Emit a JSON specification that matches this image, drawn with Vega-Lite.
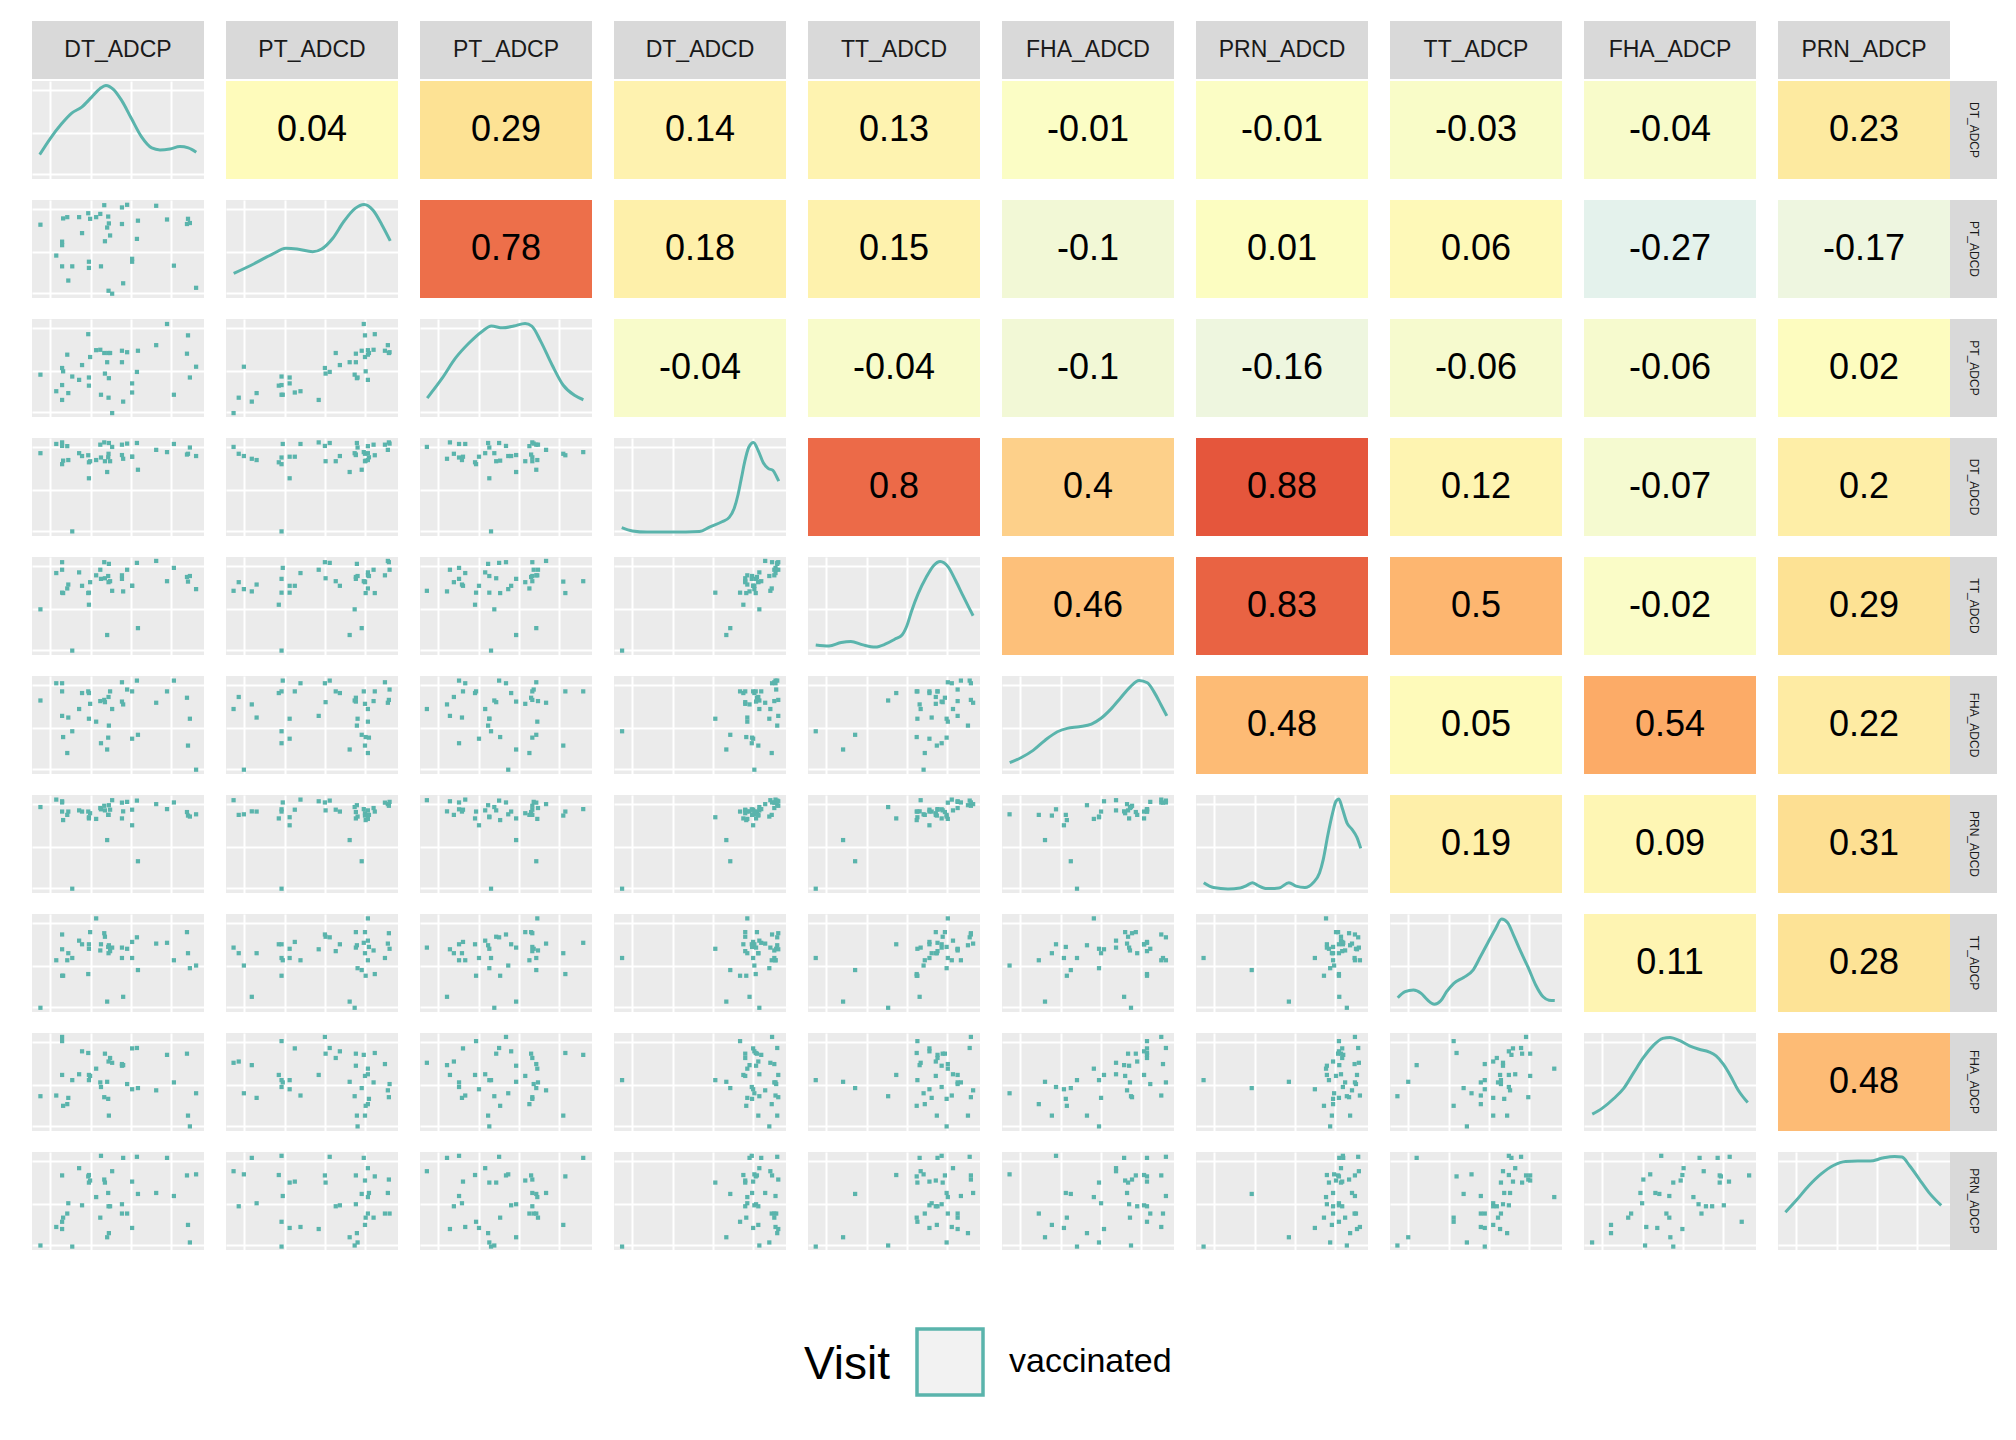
{
"$schema": "https://vega.github.io/schema/vega-lite/v6.json",
"background": "white",
"padding": {"left": 32, "top": 21, "right": 10, "bottom": 10},
"config": {"view": {"stroke": null}, "font": "Liberation Sans"},
"datasets": {
"vars": [{"var":"DT_ADCP"},{"var":"PT_ADCD"},{"var":"PT_ADCP"},{"var":"DT_ADCD"},{"var":"TT_ADCD"},{"var":"FHA_ADCD"},{"var":"PRN_ADCD"},{"var":"TT_ADCP"},{"var":"FHA_ADCP"},{"var":"PRN_ADCP"}],
"main": [
{"k":"pt","DT_ADCP":0.401,"PT_ADCD":0.323,"PT_ADCP":0.227,"DT_ADCD":0.801,"TT_ADCD":0.777,"FHA_ADCD":0.314,"PRN_ADCD":0.854,"TT_ADCP":0.691,"FHA_ADCP":0.449,"PRN_ADCP":0.961},
{"k":"pt","DT_ADCP":0.610,"PT_ADCD":0.603,"PT_ADCP":0.460,"DT_ADCD":0.949,"TT_ADCD":0.940,"FHA_ADCD":0.953,"PRN_ADCD":0.943,"TT_ADCP":0.762,"FHA_ADCP":0.847,"PRN_ADCP":0.951},
{"k":"pt","DT_ADCP":0.530,"PT_ADCD":0.150,"PT_ADCP":0.157,"DT_ADCD":0.788,"TT_ADCD":0.649,"FHA_ADCD":0.710,"PRN_ADCD":0.833,"TT_ADCP":0.155,"FHA_ADCP":0.672,"PRN_ADCP":0.940},
{"k":"pt","DT_ADCP":0.785,"PT_ADCD":0.801,"PT_ADCP":0.949,"DT_ADCD":0.856,"TT_ADCD":0.753,"FHA_ADCD":0.843,"PRN_ADCD":0.856,"TT_ADCP":0.706,"FHA_ADCP":0.777,"PRN_ADCP":0.940},
{"k":"pt","DT_ADCP":0.274,"PT_ADCD":0.825,"PT_ADCP":0.379,"DT_ADCD":0.845,"TT_ADCD":0.843,"FHA_ADCD":0.663,"PRN_ADCD":0.843,"TT_ADCP":0.728,"FHA_ADCP":0.579,"PRN_ADCP":0.835},
{"k":"pt","DT_ADCP":0.466,"PT_ADCD":0.044,"PT_ADCP":0.040,"DT_ADCD":0.909,"TT_ADCD":0.655,"FHA_ADCD":0.663,"PRN_ADCD":0.947,"TT_ADCP":0.657,"FHA_ADCP":0.696,"PRN_ADCP":0.804},
{"k":"pt","DT_ADCP":0.954,"PT_ADCD":0.104,"PT_ADCP":0.513,"DT_ADCD":0.816,"TT_ADCD":0.672,"FHA_ADCD":0.044,"PRN_ADCD":0.803,"TT_ADCP":0.474,"FHA_ADCP":0.385,"PRN_ADCP":0.772},
{"k":"pt","DT_ADCP":0.331,"PT_ADCD":0.307,"PT_ADCP":0.320,"DT_ADCD":0.752,"TT_ADCD":0.513,"FHA_ADCD":0.826,"PRN_ADCD":0.761,"TT_ADCP":0.691,"FHA_ADCP":0.572,"PRN_ADCP":0.765},
{"k":"pt","DT_ADCP":0.175,"PT_ADCD":0.575,"PT_ADCP":0.500,"DT_ADCD":0.919,"TT_ADCD":0.947,"FHA_ADCD":0.926,"PRN_ADCD":0.924,"TT_ADCP":0.791,"FHA_ADCP":0.960,"PRN_ADCP":0.761},
{"k":"pt","DT_ADCP":0.901,"PT_ADCD":0.755,"PT_ADCP":0.646,"DT_ADCD":0.831,"TT_ADCD":0.796,"FHA_ADCD":0.778,"PRN_ADCD":0.826,"TT_ADCP":0.815,"FHA_ADCP":0.789,"PRN_ADCP":0.761},
{"k":"pt","DT_ADCP":0.327,"PT_ADCD":0.865,"PT_ADCP":0.845,"DT_ADCD":0.824,"TT_ADCD":0.632,"FHA_ADCD":0.843,"PRN_ADCD":0.831,"TT_ADCP":0.387,"FHA_ADCP":0.796,"PRN_ADCP":0.751},
{"k":"pt","DT_ADCP":0.420,"PT_ADCD":0.947,"PT_ADCP":0.653,"DT_ADCD":0.955,"TT_ADCD":0.947,"FHA_ADCD":0.756,"PRN_ADCD":0.890,"TT_ADCP":0.804,"FHA_ADCP":0.345,"PRN_ADCP":0.719},
{"k":"pt","DT_ADCP":0.338,"PT_ADCD":0.808,"PT_ADCP":0.612,"DT_ADCD":0.763,"TT_ADCD":0.743,"FHA_ADCD":0.716,"PRN_ADCD":0.814,"TT_ADCP":0.815,"FHA_ADCP":0.562,"PRN_ADCP":0.709},
{"k":"pt","DT_ADCP":0.582,"PT_ADCD":0.400,"PT_ADCP":0.250,"DT_ADCD":0.809,"TT_ADCD":0.706,"FHA_ADCD":0.843,"PRN_ADCD":0.850,"TT_ADCP":0.715,"FHA_ADCP":0.843,"PRN_ADCP":0.698},
{"k":"pt","DT_ADCP":0.331,"PT_ADCD":0.370,"PT_ADCP":0.403,"DT_ADCD":0.589,"TT_ADCD":0.636,"FHA_ADCD":0.564,"PRN_ADCD":0.773,"TT_ADCP":0.645,"FHA_ADCP":0.519,"PRN_ADCP":0.688},
{"k":"pt","DT_ADCP":0.424,"PT_ADCD":0.579,"PT_ADCP":0.443,"DT_ADCD":0.763,"TT_ADCD":0.783,"FHA_ADCD":0.733,"PRN_ADCD":0.843,"TT_ADCP":0.768,"FHA_ADCP":0.789,"PRN_ADCP":0.688},
{"k":"pt","DT_ADCP":0.443,"PT_ADCD":0.831,"PT_ADCP":0.653,"DT_ADCD":0.803,"TT_ADCD":0.806,"FHA_ADCD":0.371,"PRN_ADCD":0.797,"TT_ADCP":0.664,"FHA_ADCP":0.328,"PRN_ADCP":0.582},
{"k":"pt","DT_ADCP":0.722,"PT_ADCD":0.941,"PT_ADCP":0.733,"DT_ADCD":0.879,"TT_ADCD":0.960,"FHA_ADCD":0.727,"PRN_ADCD":0.907,"TT_ADCP":0.698,"FHA_ADCP":0.415,"PRN_ADCP":0.582},
{"k":"pt","DT_ADCP":0.616,"PT_ADCD":0.789,"PT_ADCP":0.676,"DT_ADCD":0.676,"TT_ADCD":0.274,"FHA_ADCD":0.400,"PRN_ADCD":0.324,"TT_ADCP":0.428,"FHA_ADCP":0.438,"PRN_ADCP":0.572},
{"k":"pt","DT_ADCP":0.825,"PT_ADCD":0.330,"PT_ADCP":0.227,"DT_ADCD":0.939,"TT_ADCD":0.889,"FHA_ADCD":0.953,"PRN_ADCD":0.924,"TT_ADCP":0.528,"FHA_ADCP":0.496,"PRN_ADCP":0.551},
{"k":"pt","DT_ADCP":0.373,"PT_ADCD":0.825,"PT_ADCP":0.682,"DT_ADCD":0.775,"TT_ADCD":0.813,"FHA_ADCD":0.534,"PRN_ADCD":0.756,"TT_ADCP":0.955,"FHA_ADCP":0.636,"PRN_ADCP":0.540},
{"k":"pt","DT_ADCP":0.211,"PT_ADCD":0.178,"PT_ADCP":0.244,"DT_ADCD":0.775,"TT_ADCD":0.719,"FHA_ADCD":0.576,"PRN_ADCD":0.831,"TT_ADCP":0.600,"FHA_ADCP":0.338,"PRN_ADCP":0.477},
{"k":"pt","DT_ADCP":0.523,"PT_ADCD":0.755,"PT_ADCP":0.559,"DT_ADCD":0.826,"TT_ADCD":0.777,"FHA_ADCD":0.739,"PRN_ADCD":0.761,"TT_ADCP":0.657,"FHA_ADCP":0.666,"PRN_ADCP":0.467},
{"k":"pt","DT_ADCP":0.291,"PT_ADCD":0.662,"PT_ADCP":0.530,"DT_ADCD":0.816,"TT_ADCD":0.706,"FHA_ADCD":0.826,"PRN_ADCD":0.831,"TT_ADCP":0.691,"FHA_ADCP":0.813,"PRN_ADCP":0.456},
{"k":"pt","DT_ADCP":0.445,"PT_ADCD":0.074,"PT_ADCP":0.197,"DT_ADCD":0.839,"TT_ADCD":0.743,"FHA_ADCD":0.786,"PRN_ADCD":0.797,"TT_ADCP":0.600,"FHA_ADCP":0.709,"PRN_ADCP":0.446},
{"k":"pt","DT_ADCP":0.454,"PT_ADCD":0.638,"PT_ADCP":0.653,"DT_ADCD":0.763,"TT_ADCD":0.753,"FHA_ADCD":0.843,"PRN_ADCD":0.850,"TT_ADCP":0.621,"FHA_ADCP":0.745,"PRN_ADCP":0.446},
{"k":"pt","DT_ADCP":0.205,"PT_ADCD":0.825,"PT_ADCP":0.636,"DT_ADCD":0.917,"TT_ADCD":0.679,"FHA_ADCD":0.214,"PRN_ADCD":0.797,"TT_ADCP":0.528,"FHA_ADCP":0.274,"PRN_ADCP":0.372},
{"k":"pt","DT_ADCP":0.523,"PT_ADCD":0.924,"PT_ADCP":0.676,"DT_ADCD":0.932,"TT_ADCD":0.813,"FHA_ADCD":0.936,"PRN_ADCD":0.922,"TT_ADCP":0.551,"FHA_ADCP":0.683,"PRN_ADCP":0.372},
{"k":"pt","DT_ADCP":0.553,"PT_ADCD":0.951,"PT_ADCP":0.661,"DT_ADCD":0.943,"TT_ADCD":0.870,"FHA_ADCD":0.862,"PRN_ADCD":0.930,"TT_ADCP":0.645,"FHA_ADCP":0.479,"PRN_ADCP":0.372},
{"k":"pt","DT_ADCP":0.181,"PT_ADCD":0.812,"PT_ADCP":0.466,"DT_ADCD":0.769,"TT_ADCD":0.632,"FHA_ADCD":0.377,"PRN_ADCD":0.744,"TT_ADCP":0.370,"FHA_ADCP":0.257,"PRN_ADCP":0.330},
{"k":"pt","DT_ADCP":0.397,"PT_ADCD":0.858,"PT_ADCP":0.686,"DT_ADCD":0.932,"TT_ADCD":0.870,"FHA_ADCD":0.744,"PRN_ADCD":0.867,"TT_ADCP":0.628,"FHA_ADCP":0.496,"PRN_ADCP":0.330},
{"k":"pt","DT_ADCP":0.175,"PT_ADCD":0.323,"PT_ADCP":0.326,"DT_ADCD":0.733,"TT_ADCD":0.636,"FHA_ADCD":0.843,"PRN_ADCD":0.831,"TT_ADCP":0.370,"FHA_ADCP":0.917,"PRN_ADCP":0.288},
{"k":"pt","DT_ADCP":0.907,"PT_ADCD":0.808,"PT_ADCP":0.833,"DT_ADCD":0.839,"TT_ADCD":0.749,"FHA_ADCD":0.290,"PRN_ADCD":0.790,"TT_ADCP":0.600,"FHA_ADCP":0.157,"PRN_ADCP":0.256},
{"k":"pt","DT_ADCP":0.141,"PT_ADCD":0.433,"PT_ADCP":0.263,"DT_ADCD":0.939,"TT_ADCD":0.836,"FHA_ADCD":0.926,"PRN_ADCD":0.953,"TT_ADCP":0.528,"FHA_ADCP":0.362,"PRN_ADCP":0.235},
{"k":"pt","DT_ADCP":0.582,"PT_ADCD":0.370,"PT_ADCP":0.343,"DT_ADCD":0.809,"TT_ADCD":0.706,"FHA_ADCD":0.360,"PRN_ADCD":0.691,"TT_ADCP":0.551,"FHA_ADCP":0.426,"PRN_ADCP":0.225},
{"k":"pt","DT_ADCP":0.175,"PT_ADCD":0.539,"PT_ADCP":0.174,"DT_ADCD":0.955,"TT_ADCD":0.870,"FHA_ADCD":0.593,"PRN_ADCD":0.936,"TT_ADCP":0.640,"FHA_ADCP":0.572,"PRN_ADCP":0.214},
{"k":"pt","DT_ADCP":0.447,"PT_ADCD":0.761,"PT_ADCP":0.396,"DT_ADCD":0.949,"TT_ADCD":0.930,"FHA_ADCD":0.494,"PRN_ADCD":0.896,"TT_ADCP":0.681,"FHA_ADCP":0.157,"PRN_ADCP":0.172},
{"k":"pt","DT_ADCP":0.437,"PT_ADCD":0.719,"PT_ADCP":0.559,"DT_ADCD":0.653,"TT_ADCD":0.204,"FHA_ADCD":0.250,"PRN_ADCD":0.540,"TT_ADCP":0.106,"FHA_ADCP":0.502,"PRN_ADCP":0.130},
{"k":"pt","DT_ADCP":0.918,"PT_ADCD":0.765,"PT_ADCP":0.403,"DT_ADCD":0.903,"TT_ADCD":0.806,"FHA_ADCD":0.564,"PRN_ADCD":0.780,"TT_ADCP":0.447,"FHA_ADCP":0.047,"PRN_ADCP":0.077},
{"k":"pt","DT_ADCP":0.049,"PT_ADCD":0.748,"PT_ADCP":0.432,"DT_ADCD":0.845,"TT_ADCD":0.466,"FHA_ADCD":0.750,"PRN_ADCD":0.877,"TT_ADCP":0.043,"FHA_ADCP":0.355,"PRN_ADCP":0.046},
{"k":"pt","DT_ADCP":0.234,"PT_ADCD":0.323,"PT_ADCP":0.413,"DT_ADCD":0.047,"TT_ADCD":0.045,"FHA_ADCD":0.436,"PRN_ADCD":0.044,"TT_ADCP":0.551,"FHA_ADCP":0.519,"PRN_ADCP":0.035},
{"k":"cor","r0":"DT_ADCP","c0":"PT_ADCD","r":0.04},
{"k":"cor","r0":"DT_ADCP","c0":"PT_ADCP","r":0.29},
{"k":"cor","r0":"DT_ADCP","c0":"DT_ADCD","r":0.14},
{"k":"cor","r0":"DT_ADCP","c0":"TT_ADCD","r":0.13},
{"k":"cor","r0":"DT_ADCP","c0":"FHA_ADCD","r":-0.01},
{"k":"cor","r0":"DT_ADCP","c0":"PRN_ADCD","r":-0.01},
{"k":"cor","r0":"DT_ADCP","c0":"TT_ADCP","r":-0.03},
{"k":"cor","r0":"DT_ADCP","c0":"FHA_ADCP","r":-0.04},
{"k":"cor","r0":"DT_ADCP","c0":"PRN_ADCP","r":0.23},
{"k":"cor","r0":"PT_ADCD","c0":"PT_ADCP","r":0.78},
{"k":"cor","r0":"PT_ADCD","c0":"DT_ADCD","r":0.18},
{"k":"cor","r0":"PT_ADCD","c0":"TT_ADCD","r":0.15},
{"k":"cor","r0":"PT_ADCD","c0":"FHA_ADCD","r":-0.1},
{"k":"cor","r0":"PT_ADCD","c0":"PRN_ADCD","r":0.01},
{"k":"cor","r0":"PT_ADCD","c0":"TT_ADCP","r":0.06},
{"k":"cor","r0":"PT_ADCD","c0":"FHA_ADCP","r":-0.27},
{"k":"cor","r0":"PT_ADCD","c0":"PRN_ADCP","r":-0.17},
{"k":"cor","r0":"PT_ADCP","c0":"DT_ADCD","r":-0.04},
{"k":"cor","r0":"PT_ADCP","c0":"TT_ADCD","r":-0.04},
{"k":"cor","r0":"PT_ADCP","c0":"FHA_ADCD","r":-0.1},
{"k":"cor","r0":"PT_ADCP","c0":"PRN_ADCD","r":-0.16},
{"k":"cor","r0":"PT_ADCP","c0":"TT_ADCP","r":-0.06},
{"k":"cor","r0":"PT_ADCP","c0":"FHA_ADCP","r":-0.06},
{"k":"cor","r0":"PT_ADCP","c0":"PRN_ADCP","r":0.02},
{"k":"cor","r0":"DT_ADCD","c0":"TT_ADCD","r":0.8},
{"k":"cor","r0":"DT_ADCD","c0":"FHA_ADCD","r":0.4},
{"k":"cor","r0":"DT_ADCD","c0":"PRN_ADCD","r":0.88},
{"k":"cor","r0":"DT_ADCD","c0":"TT_ADCP","r":0.12},
{"k":"cor","r0":"DT_ADCD","c0":"FHA_ADCP","r":-0.07},
{"k":"cor","r0":"DT_ADCD","c0":"PRN_ADCP","r":0.2},
{"k":"cor","r0":"TT_ADCD","c0":"FHA_ADCD","r":0.46},
{"k":"cor","r0":"TT_ADCD","c0":"PRN_ADCD","r":0.83},
{"k":"cor","r0":"TT_ADCD","c0":"TT_ADCP","r":0.5},
{"k":"cor","r0":"TT_ADCD","c0":"FHA_ADCP","r":-0.02},
{"k":"cor","r0":"TT_ADCD","c0":"PRN_ADCP","r":0.29},
{"k":"cor","r0":"FHA_ADCD","c0":"PRN_ADCD","r":0.48},
{"k":"cor","r0":"FHA_ADCD","c0":"TT_ADCP","r":0.05},
{"k":"cor","r0":"FHA_ADCD","c0":"FHA_ADCP","r":0.54},
{"k":"cor","r0":"FHA_ADCD","c0":"PRN_ADCP","r":0.22},
{"k":"cor","r0":"PRN_ADCD","c0":"TT_ADCP","r":0.19},
{"k":"cor","r0":"PRN_ADCD","c0":"FHA_ADCP","r":0.09},
{"k":"cor","r0":"PRN_ADCD","c0":"PRN_ADCP","r":0.31},
{"k":"cor","r0":"TT_ADCP","c0":"FHA_ADCP","r":0.11},
{"k":"cor","r0":"TT_ADCP","c0":"PRN_ADCP","r":0.28},
{"k":"cor","r0":"FHA_ADCP","c0":"PRN_ADCP","r":0.48},
{"k":"den","r0":"DT_ADCP","c0":"DT_ADCP","u":0.045,"v":0.249},
{"k":"den","r0":"DT_ADCP","c0":"DT_ADCP","u":0.105,"v":0.410},
{"k":"den","r0":"DT_ADCP","c0":"DT_ADCP","u":0.172,"v":0.563},
{"k":"den","r0":"DT_ADCP","c0":"DT_ADCP","u":0.231,"v":0.672},
{"k":"den","r0":"DT_ADCP","c0":"DT_ADCP","u":0.289,"v":0.734},
{"k":"den","r0":"DT_ADCP","c0":"DT_ADCP","u":0.347,"v":0.836},
{"k":"den","r0":"DT_ADCP","c0":"DT_ADCP","u":0.395,"v":0.922},
{"k":"den","r0":"DT_ADCP","c0":"DT_ADCP","u":0.430,"v":0.955},
{"k":"den","r0":"DT_ADCP","c0":"DT_ADCP","u":0.473,"v":0.915},
{"k":"den","r0":"DT_ADCP","c0":"DT_ADCP","u":0.521,"v":0.802},
{"k":"den","r0":"DT_ADCP","c0":"DT_ADCP","u":0.579,"v":0.614},
{"k":"den","r0":"DT_ADCP","c0":"DT_ADCP","u":0.638,"v":0.427},
{"k":"den","r0":"DT_ADCP","c0":"DT_ADCP","u":0.696,"v":0.317},
{"k":"den","r0":"DT_ADCP","c0":"DT_ADCP","u":0.744,"v":0.297},
{"k":"den","r0":"DT_ADCP","c0":"DT_ADCP","u":0.802,"v":0.307},
{"k":"den","r0":"DT_ADCP","c0":"DT_ADCP","u":0.860,"v":0.331},
{"k":"den","r0":"DT_ADCP","c0":"DT_ADCP","u":0.909,"v":0.317},
{"k":"den","r0":"DT_ADCP","c0":"DT_ADCP","u":0.955,"v":0.273},
{"k":"den","r0":"PT_ADCD","c0":"PT_ADCD","u":0.045,"v":0.250},
{"k":"den","r0":"PT_ADCD","c0":"PT_ADCD","u":0.166,"v":0.352},
{"k":"den","r0":"PT_ADCD","c0":"PT_ADCD","u":0.270,"v":0.448},
{"k":"den","r0":"PT_ADCD","c0":"PT_ADCD","u":0.348,"v":0.507},
{"k":"den","r0":"PT_ADCD","c0":"PT_ADCD","u":0.413,"v":0.500},
{"k":"den","r0":"PT_ADCD","c0":"PT_ADCD","u":0.504,"v":0.472},
{"k":"den","r0":"PT_ADCD","c0":"PT_ADCD","u":0.556,"v":0.500},
{"k":"den","r0":"PT_ADCD","c0":"PT_ADCD","u":0.621,"v":0.610},
{"k":"den","r0":"PT_ADCD","c0":"PT_ADCD","u":0.686,"v":0.783},
{"k":"den","r0":"PT_ADCD","c0":"PT_ADCD","u":0.751,"v":0.915},
{"k":"den","r0":"PT_ADCD","c0":"PT_ADCD","u":0.803,"v":0.955},
{"k":"den","r0":"PT_ADCD","c0":"PT_ADCD","u":0.855,"v":0.895},
{"k":"den","r0":"PT_ADCD","c0":"PT_ADCD","u":0.906,"v":0.748},
{"k":"den","r0":"PT_ADCD","c0":"PT_ADCD","u":0.955,"v":0.583},
{"k":"den","r0":"PT_ADCP","c0":"PT_ADCP","u":0.042,"v":0.193},
{"k":"den","r0":"PT_ADCP","c0":"PT_ADCP","u":0.128,"v":0.393},
{"k":"den","r0":"PT_ADCP","c0":"PT_ADCP","u":0.206,"v":0.600},
{"k":"den","r0":"PT_ADCP","c0":"PT_ADCP","u":0.285,"v":0.755},
{"k":"den","r0":"PT_ADCP","c0":"PT_ADCP","u":0.363,"v":0.876},
{"k":"den","r0":"PT_ADCP","c0":"PT_ADCP","u":0.415,"v":0.928},
{"k":"den","r0":"PT_ADCP","c0":"PT_ADCP","u":0.480,"v":0.910},
{"k":"den","r0":"PT_ADCP","c0":"PT_ADCP","u":0.546,"v":0.928},
{"k":"den","r0":"PT_ADCP","c0":"PT_ADCP","u":0.611,"v":0.955},
{"k":"den","r0":"PT_ADCP","c0":"PT_ADCP","u":0.650,"v":0.928},
{"k":"den","r0":"PT_ADCP","c0":"PT_ADCP","u":0.702,"v":0.772},
{"k":"den","r0":"PT_ADCP","c0":"PT_ADCP","u":0.768,"v":0.531},
{"k":"den","r0":"PT_ADCP","c0":"PT_ADCP","u":0.833,"v":0.324},
{"k":"den","r0":"PT_ADCP","c0":"PT_ADCP","u":0.898,"v":0.221},
{"k":"den","r0":"PT_ADCP","c0":"PT_ADCP","u":0.950,"v":0.176},
{"k":"den","r0":"DT_ADCD","c0":"DT_ADCD","u":0.045,"v":0.086},
{"k":"den","r0":"DT_ADCD","c0":"DT_ADCD","u":0.107,"v":0.052},
{"k":"den","r0":"DT_ADCD","c0":"DT_ADCD","u":0.192,"v":0.040},
{"k":"den","r0":"DT_ADCD","c0":"DT_ADCD","u":0.304,"v":0.040},
{"k":"den","r0":"DT_ADCD","c0":"DT_ADCD","u":0.417,"v":0.040},
{"k":"den","r0":"DT_ADCD","c0":"DT_ADCD","u":0.496,"v":0.045},
{"k":"den","r0":"DT_ADCD","c0":"DT_ADCD","u":0.558,"v":0.093},
{"k":"den","r0":"DT_ADCD","c0":"DT_ADCD","u":0.628,"v":0.145},
{"k":"den","r0":"DT_ADCD","c0":"DT_ADCD","u":0.670,"v":0.190},
{"k":"den","r0":"DT_ADCD","c0":"DT_ADCD","u":0.699,"v":0.283},
{"k":"den","r0":"DT_ADCD","c0":"DT_ADCD","u":0.721,"v":0.421},
{"k":"den","r0":"DT_ADCD","c0":"DT_ADCD","u":0.741,"v":0.593},
{"k":"den","r0":"DT_ADCD","c0":"DT_ADCD","u":0.761,"v":0.766},
{"k":"den","r0":"DT_ADCD","c0":"DT_ADCD","u":0.783,"v":0.903},
{"k":"den","r0":"DT_ADCD","c0":"DT_ADCD","u":0.811,"v":0.955},
{"k":"den","r0":"DT_ADCD","c0":"DT_ADCD","u":0.839,"v":0.869},
{"k":"den","r0":"DT_ADCD","c0":"DT_ADCD","u":0.868,"v":0.748},
{"k":"den","r0":"DT_ADCD","c0":"DT_ADCD","u":0.896,"v":0.690},
{"k":"den","r0":"DT_ADCD","c0":"DT_ADCD","u":0.924,"v":0.669},
{"k":"den","r0":"DT_ADCD","c0":"DT_ADCD","u":0.944,"v":0.610},
{"k":"den","r0":"DT_ADCD","c0":"DT_ADCD","u":0.958,"v":0.559},
{"k":"den","r0":"TT_ADCD","c0":"TT_ADCD","u":0.045,"v":0.103},
{"k":"den","r0":"TT_ADCD","c0":"TT_ADCD","u":0.122,"v":0.092},
{"k":"den","r0":"TT_ADCD","c0":"TT_ADCD","u":0.193,"v":0.127},
{"k":"den","r0":"TT_ADCD","c0":"TT_ADCD","u":0.249,"v":0.137},
{"k":"den","r0":"TT_ADCD","c0":"TT_ADCD","u":0.320,"v":0.103},
{"k":"den","r0":"TT_ADCD","c0":"TT_ADCD","u":0.391,"v":0.082},
{"k":"den","r0":"TT_ADCD","c0":"TT_ADCD","u":0.448,"v":0.110},
{"k":"den","r0":"TT_ADCD","c0":"TT_ADCD","u":0.504,"v":0.161},
{"k":"den","r0":"TT_ADCD","c0":"TT_ADCD","u":0.547,"v":0.205},
{"k":"den","r0":"TT_ADCD","c0":"TT_ADCD","u":0.575,"v":0.298},
{"k":"den","r0":"TT_ADCD","c0":"TT_ADCD","u":0.603,"v":0.452},
{"k":"den","r0":"TT_ADCD","c0":"TT_ADCD","u":0.640,"v":0.623},
{"k":"den","r0":"TT_ADCD","c0":"TT_ADCD","u":0.688,"v":0.795},
{"k":"den","r0":"TT_ADCD","c0":"TT_ADCD","u":0.731,"v":0.914},
{"k":"den","r0":"TT_ADCD","c0":"TT_ADCD","u":0.768,"v":0.955},
{"k":"den","r0":"TT_ADCD","c0":"TT_ADCD","u":0.816,"v":0.897},
{"k":"den","r0":"TT_ADCD","c0":"TT_ADCD","u":0.858,"v":0.760},
{"k":"den","r0":"TT_ADCD","c0":"TT_ADCD","u":0.901,"v":0.606},
{"k":"den","r0":"TT_ADCD","c0":"TT_ADCD","u":0.935,"v":0.486},
{"k":"den","r0":"TT_ADCD","c0":"TT_ADCD","u":0.960,"v":0.401},
{"k":"den","r0":"FHA_ADCD","c0":"FHA_ADCD","u":0.045,"v":0.115},
{"k":"den","r0":"FHA_ADCD","c0":"FHA_ADCD","u":0.110,"v":0.166},
{"k":"den","r0":"FHA_ADCD","c0":"FHA_ADCD","u":0.181,"v":0.241},
{"k":"den","r0":"FHA_ADCD","c0":"FHA_ADCD","u":0.251,"v":0.345},
{"k":"den","r0":"FHA_ADCD","c0":"FHA_ADCD","u":0.322,"v":0.431},
{"k":"den","r0":"FHA_ADCD","c0":"FHA_ADCD","u":0.379,"v":0.466},
{"k":"den","r0":"FHA_ADCD","c0":"FHA_ADCD","u":0.449,"v":0.483},
{"k":"den","r0":"FHA_ADCD","c0":"FHA_ADCD","u":0.520,"v":0.510},
{"k":"den","r0":"FHA_ADCD","c0":"FHA_ADCD","u":0.576,"v":0.569},
{"k":"den","r0":"FHA_ADCD","c0":"FHA_ADCD","u":0.633,"v":0.662},
{"k":"den","r0":"FHA_ADCD","c0":"FHA_ADCD","u":0.689,"v":0.776},
{"k":"den","r0":"FHA_ADCD","c0":"FHA_ADCD","u":0.746,"v":0.890},
{"k":"den","r0":"FHA_ADCD","c0":"FHA_ADCD","u":0.797,"v":0.955},
{"k":"den","r0":"FHA_ADCD","c0":"FHA_ADCD","u":0.845,"v":0.931},
{"k":"den","r0":"FHA_ADCD","c0":"FHA_ADCD","u":0.887,"v":0.828},
{"k":"den","r0":"FHA_ADCD","c0":"FHA_ADCD","u":0.924,"v":0.707},
{"k":"den","r0":"FHA_ADCD","c0":"FHA_ADCD","u":0.958,"v":0.593},
{"k":"den","r0":"PRN_ADCD","c0":"PRN_ADCD","u":0.045,"v":0.105},
{"k":"den","r0":"PRN_ADCD","c0":"PRN_ADCD","u":0.102,"v":0.056},
{"k":"den","r0":"PRN_ADCD","c0":"PRN_ADCD","u":0.186,"v":0.042},
{"k":"den","r0":"PRN_ADCD","c0":"PRN_ADCD","u":0.257,"v":0.052},
{"k":"den","r0":"PRN_ADCD","c0":"PRN_ADCD","u":0.299,"v":0.080},
{"k":"den","r0":"PRN_ADCD","c0":"PRN_ADCD","u":0.328,"v":0.105},
{"k":"den","r0":"PRN_ADCD","c0":"PRN_ADCD","u":0.356,"v":0.080},
{"k":"den","r0":"PRN_ADCD","c0":"PRN_ADCD","u":0.412,"v":0.045},
{"k":"den","r0":"PRN_ADCD","c0":"PRN_ADCD","u":0.483,"v":0.052},
{"k":"den","r0":"PRN_ADCD","c0":"PRN_ADCD","u":0.540,"v":0.105},
{"k":"den","r0":"PRN_ADCD","c0":"PRN_ADCD","u":0.582,"v":0.070},
{"k":"den","r0":"PRN_ADCD","c0":"PRN_ADCD","u":0.633,"v":0.056},
{"k":"den","r0":"PRN_ADCD","c0":"PRN_ADCD","u":0.681,"v":0.105},
{"k":"den","r0":"PRN_ADCD","c0":"PRN_ADCD","u":0.718,"v":0.203},
{"k":"den","r0":"PRN_ADCD","c0":"PRN_ADCD","u":0.740,"v":0.343},
{"k":"den","r0":"PRN_ADCD","c0":"PRN_ADCD","u":0.766,"v":0.587},
{"k":"den","r0":"PRN_ADCD","c0":"PRN_ADCD","u":0.794,"v":0.815},
{"k":"den","r0":"PRN_ADCD","c0":"PRN_ADCD","u":0.814,"v":0.937},
{"k":"den","r0":"PRN_ADCD","c0":"PRN_ADCD","u":0.831,"v":0.960},
{"k":"den","r0":"PRN_ADCD","c0":"PRN_ADCD","u":0.850,"v":0.867},
{"k":"den","r0":"PRN_ADCD","c0":"PRN_ADCD","u":0.879,"v":0.710},
{"k":"den","r0":"PRN_ADCD","c0":"PRN_ADCD","u":0.907,"v":0.650},
{"k":"den","r0":"PRN_ADCD","c0":"PRN_ADCD","u":0.935,"v":0.570},
{"k":"den","r0":"PRN_ADCD","c0":"PRN_ADCD","u":0.958,"v":0.455},
{"k":"den","r0":"TT_ADCP","c0":"TT_ADCP","u":0.045,"v":0.145},
{"k":"den","r0":"TT_ADCP","c0":"TT_ADCP","u":0.088,"v":0.207},
{"k":"den","r0":"TT_ADCP","c0":"TT_ADCP","u":0.136,"v":0.224},
{"k":"den","r0":"TT_ADCP","c0":"TT_ADCP","u":0.181,"v":0.190},
{"k":"den","r0":"TT_ADCP","c0":"TT_ADCP","u":0.215,"v":0.128},
{"k":"den","r0":"TT_ADCP","c0":"TT_ADCP","u":0.258,"v":0.079},
{"k":"den","r0":"TT_ADCP","c0":"TT_ADCP","u":0.295,"v":0.114},
{"k":"den","r0":"TT_ADCP","c0":"TT_ADCP","u":0.329,"v":0.207},
{"k":"den","r0":"TT_ADCP","c0":"TT_ADCP","u":0.371,"v":0.293},
{"k":"den","r0":"TT_ADCP","c0":"TT_ADCP","u":0.428,"v":0.352},
{"k":"den","r0":"TT_ADCP","c0":"TT_ADCP","u":0.484,"v":0.431},
{"k":"den","r0":"TT_ADCP","c0":"TT_ADCP","u":0.527,"v":0.569},
{"k":"den","r0":"TT_ADCP","c0":"TT_ADCP","u":0.569,"v":0.707},
{"k":"den","r0":"TT_ADCP","c0":"TT_ADCP","u":0.612,"v":0.845},
{"k":"den","r0":"TT_ADCP","c0":"TT_ADCP","u":0.649,"v":0.948},
{"k":"den","r0":"TT_ADCP","c0":"TT_ADCP","u":0.683,"v":0.914},
{"k":"den","r0":"TT_ADCP","c0":"TT_ADCP","u":0.720,"v":0.776},
{"k":"den","r0":"TT_ADCP","c0":"TT_ADCP","u":0.759,"v":0.621},
{"k":"den","r0":"TT_ADCP","c0":"TT_ADCP","u":0.805,"v":0.448},
{"k":"den","r0":"TT_ADCP","c0":"TT_ADCP","u":0.847,"v":0.276},
{"k":"den","r0":"TT_ADCP","c0":"TT_ADCP","u":0.890,"v":0.155},
{"k":"den","r0":"TT_ADCP","c0":"TT_ADCP","u":0.924,"v":0.121},
{"k":"den","r0":"TT_ADCP","c0":"TT_ADCP","u":0.958,"v":0.117},
{"k":"den","r0":"FHA_ADCP","c0":"FHA_ADCP","u":0.048,"v":0.172},
{"k":"den","r0":"FHA_ADCP","c0":"FHA_ADCP","u":0.105,"v":0.231},
{"k":"den","r0":"FHA_ADCP","c0":"FHA_ADCP","u":0.175,"v":0.334},
{"k":"den","r0":"FHA_ADCP","c0":"FHA_ADCP","u":0.232,"v":0.438},
{"k":"den","r0":"FHA_ADCP","c0":"FHA_ADCP","u":0.288,"v":0.593},
{"k":"den","r0":"FHA_ADCP","c0":"FHA_ADCP","u":0.345,"v":0.748},
{"k":"den","r0":"FHA_ADCP","c0":"FHA_ADCP","u":0.401,"v":0.869},
{"k":"den","r0":"FHA_ADCP","c0":"FHA_ADCP","u":0.458,"v":0.945},
{"k":"den","r0":"FHA_ADCP","c0":"FHA_ADCP","u":0.500,"v":0.955},
{"k":"den","r0":"FHA_ADCP","c0":"FHA_ADCP","u":0.557,"v":0.921},
{"k":"den","r0":"FHA_ADCP","c0":"FHA_ADCP","u":0.613,"v":0.869},
{"k":"den","r0":"FHA_ADCP","c0":"FHA_ADCP","u":0.669,"v":0.834},
{"k":"den","r0":"FHA_ADCP","c0":"FHA_ADCP","u":0.726,"v":0.807},
{"k":"den","r0":"FHA_ADCP","c0":"FHA_ADCP","u":0.768,"v":0.766},
{"k":"den","r0":"FHA_ADCP","c0":"FHA_ADCP","u":0.811,"v":0.679},
{"k":"den","r0":"FHA_ADCP","c0":"FHA_ADCP","u":0.853,"v":0.559},
{"k":"den","r0":"FHA_ADCP","c0":"FHA_ADCP","u":0.895,"v":0.421},
{"k":"den","r0":"FHA_ADCP","c0":"FHA_ADCP","u":0.952,"v":0.290},
{"k":"den","r0":"PRN_ADCP","c0":"PRN_ADCP","u":0.043,"v":0.386},
{"k":"den","r0":"PRN_ADCP","c0":"PRN_ADCP","u":0.108,"v":0.510},
{"k":"den","r0":"PRN_ADCP","c0":"PRN_ADCP","u":0.179,"v":0.655},
{"k":"den","r0":"PRN_ADCP","c0":"PRN_ADCP","u":0.251,"v":0.776},
{"k":"den","r0":"PRN_ADCP","c0":"PRN_ADCP","u":0.322,"v":0.862},
{"k":"den","r0":"PRN_ADCP","c0":"PRN_ADCP","u":0.393,"v":0.903},
{"k":"den","r0":"PRN_ADCP","c0":"PRN_ADCP","u":0.464,"v":0.907},
{"k":"den","r0":"PRN_ADCP","c0":"PRN_ADCP","u":0.536,"v":0.907},
{"k":"den","r0":"PRN_ADCP","c0":"PRN_ADCP","u":0.607,"v":0.938},
{"k":"den","r0":"PRN_ADCP","c0":"PRN_ADCP","u":0.678,"v":0.955},
{"k":"den","r0":"PRN_ADCP","c0":"PRN_ADCP","u":0.721,"v":0.948},
{"k":"den","r0":"PRN_ADCP","c0":"PRN_ADCP","u":0.764,"v":0.862},
{"k":"den","r0":"PRN_ADCP","c0":"PRN_ADCP","u":0.821,"v":0.724},
{"k":"den","r0":"PRN_ADCP","c0":"PRN_ADCP","u":0.878,"v":0.586},
{"k":"den","r0":"PRN_ADCP","c0":"PRN_ADCP","u":0.949,"v":0.455}
]
},
"vconcat": [
{
"data": {"name": "vars"},
"facet": {"column": {"field": "var", "type": "nominal", "sort": ["DT_ADCP","PT_ADCD","PT_ADCP","DT_ADCD","TT_ADCD","FHA_ADCD","PRN_ADCD","TT_ADCP","FHA_ADCP","PRN_ADCP"], "header": null}},
"spacing": {"column": 22},
"spec": {
"width": 172, "height": 58,
"view": {"fill": "#D9D9D9", "stroke": null},
"mark": {"type": "text", "fontSize": 23, "font": "Liberation Sans", "color": "#1A1A1A", "align": "center", "baseline": "middle"},
"encoding": {"text": {"field": "var", "type": "nominal"}}
}
},
{
"hconcat": [
{
"data": {"name": "main"},
"transform": [
{"fold": ["DT_ADCP","PT_ADCD","PT_ADCP","DT_ADCD","TT_ADCD","FHA_ADCD","PRN_ADCD","TT_ADCP","FHA_ADCP","PRN_ADCP"], "as": ["colv","xval"]},
{"fold": ["DT_ADCP","PT_ADCD","PT_ADCP","DT_ADCD","TT_ADCD","FHA_ADCD","PRN_ADCD","TT_ADCP","FHA_ADCP","PRN_ADCP"], "as": ["rowv","yval"]},
{"filter": "datum.k == 'pt' ? (indexof(['DT_ADCP','PT_ADCD','PT_ADCP','DT_ADCD','TT_ADCD','FHA_ADCD','PRN_ADCD','TT_ADCP','FHA_ADCP','PRN_ADCP'], datum.colv) < indexof(['DT_ADCP','PT_ADCD','PT_ADCP','DT_ADCD','TT_ADCD','FHA_ADCD','PRN_ADCD','TT_ADCP','FHA_ADCP','PRN_ADCP'], datum.rowv)) : (datum.colv == datum.c0 && datum.rowv == datum.r0)"}
],
"facet": {
"row": {"field": "rowv", "type": "nominal", "sort": ["DT_ADCP","PT_ADCD","PT_ADCP","DT_ADCD","TT_ADCD","FHA_ADCD","PRN_ADCD","TT_ADCP","FHA_ADCP","PRN_ADCP"], "header": null},
"column": {"field": "colv", "type": "nominal", "sort": ["DT_ADCP","PT_ADCD","PT_ADCP","DT_ADCD","TT_ADCD","FHA_ADCD","PRN_ADCD","TT_ADCP","FHA_ADCP","PRN_ADCP"], "header": null}
},
"spacing": {"row": 21, "column": 22},
"bounds": "flush",
"spec": {
"width": 172, "height": 98,
"view": {"fill": "#EBEBEB", "stroke": null},
"layer": [
{
"transform": [{"filter": "datum.k == 'cor'"}],
"mark": {"type": "rect"},
"encoding": {
"x": {"datum": 0, "type": "quantitative", "scale": {"domain": [0, 1], "nice": false, "zero": false}, "axis": {"labels": false, "ticks": false, "domain": false, "title": null, "grid": true, "gridColor": "#FFFFFF", "gridWidth": 2, "values": [0.105,0.227,0.343,0.465,0.576,0.692,0.808,0.930]}},
"x2": {"datum": 1},
"y": {"datum": 0, "type": "quantitative", "scale": {"domain": [0, 1], "nice": false, "zero": false}, "axis": {"labels": false, "ticks": false, "domain": false, "title": null, "grid": true, "gridColor": "#FFFFFF", "gridWidth": 2, "values": [0.051,0.153,0.255,0.357,0.469,0.582,0.684,0.816,0.908]}},
"y2": {"datum": 1},
"fill": {"field": "r", "type": "quantitative", "legend": null, "scale": {"domain": [-0.27,-0.17,-0.1,-0.04,0,0.04,0.1,0.19,0.29,0.4,0.48,0.54,0.8,0.88], "range": ["#E4F2EC","#EEF6E0","#F2F8D6","#F8FBCA","#FCFDC3","#FEFBBB","#FEF5B3","#FEEFA9","#FDE294","#FDD08A","#FDBB75","#FCAB67","#EC6A48","#E5563C"]}}
}
},
{
"transform": [{"filter": "datum.k == 'cor'"}],
"mark": {"type": "text", "fontSize": 36, "font": "Liberation Sans", "color": "#000000", "align": "center", "baseline": "middle"},
"encoding": {"text": {"field": "r", "type": "nominal"}}
},
{
"transform": [{"filter": "datum.k == 'pt'"}],
"mark": {"type": "point", "shape": "square", "filled": true, "size": 18, "color": "#5AB4AC", "opacity": 1},
"encoding": {
"x": {"field": "xval", "type": "quantitative"},
"y": {"field": "yval", "type": "quantitative"}
}
},
{
"transform": [{"filter": "datum.k == 'den'"}],
"mark": {"type": "line", "interpolate": "monotone", "strokeWidth": 3, "color": "#5AB4AC"},
"encoding": {
"x": {"field": "u", "type": "quantitative"},
"y": {"field": "v", "type": "quantitative"},
"order": {"field": "u", "type": "quantitative"},
"stroke": {"datum": "vaccinated", "type": "nominal", "scale": {"range": ["#5AB4AC"]},
"legend": {"title": "Visit", "orient": "none", "legendX": 772, "legendY": 1306, "direction": "horizontal", "titleOrient": "left", "titleFontSize": 46, "titleFont": "Liberation Sans", "titleFontWeight": "normal", "titleColor": "#000000", "titlePadding": 24, "titleBaseline": "middle", "titleLimit": 0, "labelFontSize": 34, "labelFont": "Liberation Sans", "labelColor": "#000000", "labelOffset": 24, "labelLimit": 0, "symbolType": "square", "symbolSize": 4356, "symbolStrokeWidth": 3.5, "symbolFillColor": "#F2F2F2", "symbolStrokeColor": "#5AB4AC",
"encode": {"symbols": {"update": {"fill": {"value": "#F2F2F2"}, "stroke": {"value": "#5AB4AC"}, "strokeWidth": {"value": 3.5}, "opacity": {"value": 1}}}}}}
}
}
]
}
},
{
"data": {"name": "vars"},
"facet": {"row": {"field": "var", "type": "nominal", "sort": ["DT_ADCP","PT_ADCD","PT_ADCP","DT_ADCD","TT_ADCD","FHA_ADCD","PRN_ADCD","TT_ADCP","FHA_ADCP","PRN_ADCP"], "header": null}},
"spacing": {"row": 21},
"spec": {
"width": 47, "height": 98,
"view": {"fill": "#D9D9D9", "stroke": null},
"mark": {"type": "text", "angle": 90, "fontSize": 12, "font": "Liberation Sans", "color": "#1A1A1A", "align": "center", "baseline": "middle"},
"encoding": {"text": {"field": "var", "type": "nominal"}}
}
}
],
"spacing": 0
}
],
"spacing": 0
}
